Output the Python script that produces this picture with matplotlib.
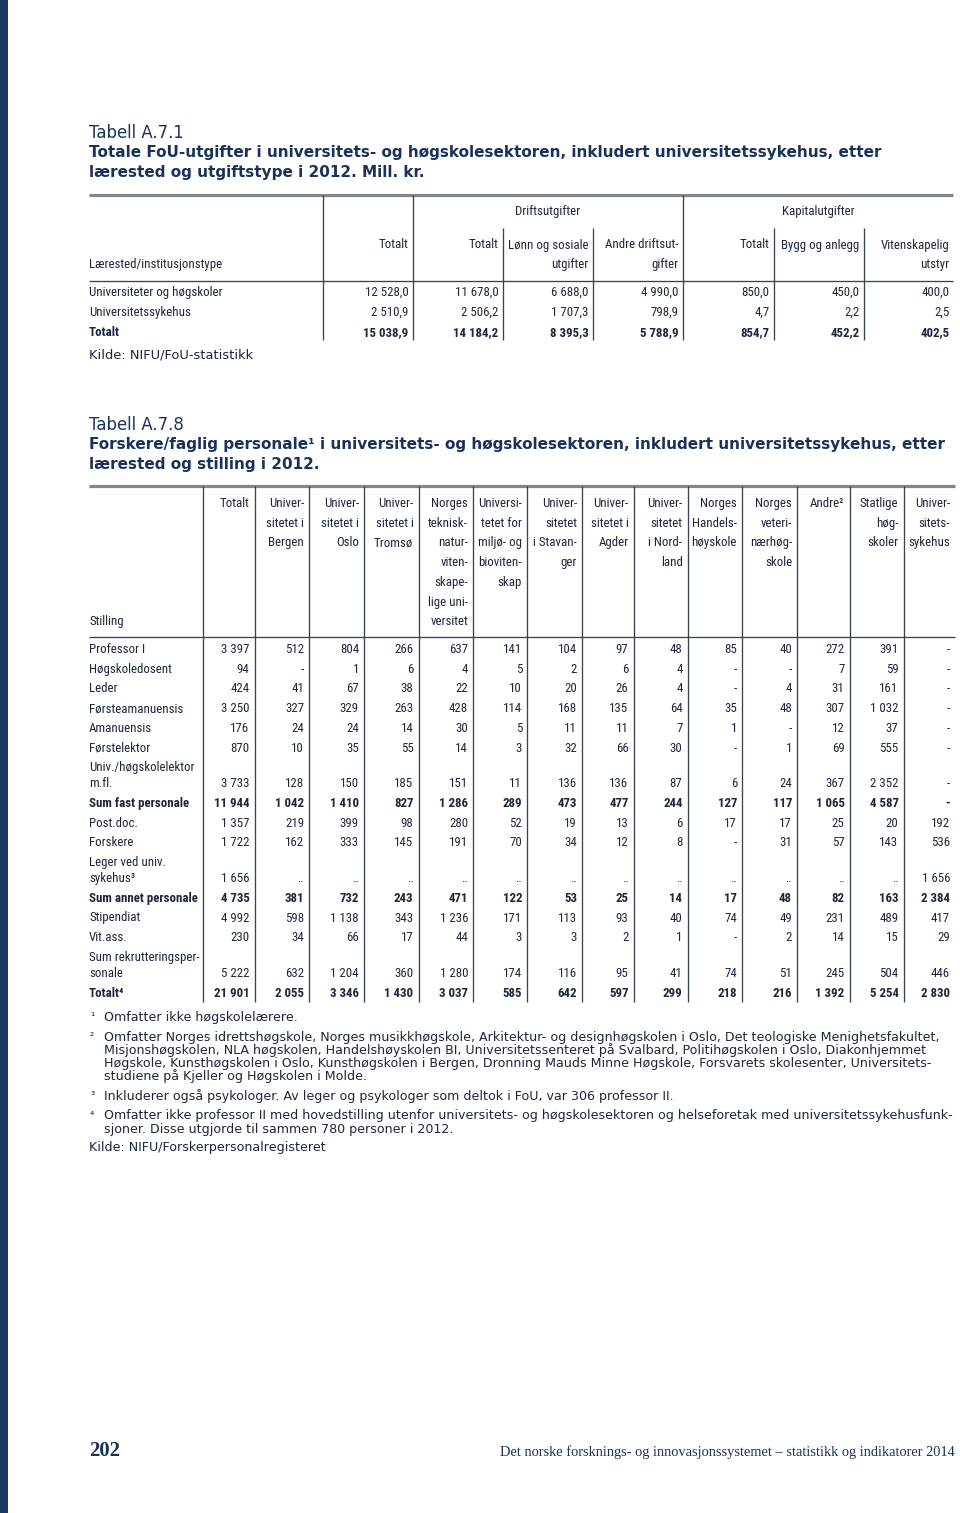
import os
import matplotlib
matplotlib.use("Agg")
import matplotlib.pyplot as plt
from matplotlib import font_manager as fm
from matplotlib.patches import Rectangle

# ---------------- Tabell A.7.1 ----------------
t1_rows = ["Universiteter og høgskoler", "Universitetssykehus", "Totalt"]
t1_cols = [["Totalt"], ["Totalt"], ["Lønn og sosiale", "utgifter"],
           ["Andre driftsut-", "gifter"], ["Totalt"], ["Bygg og anlegg"],
           ["Vitenskapelig", "utstyr"]]
t1_totalt = [12528.0, 2510.9, 15038.9]
t1_drift_totalt = [11678.0, 2506.2, 14184.2]
t1_lonn = [6688.0, 1707.3, 8395.3]
t1_andre_drift = [4990.0, 798.9, 5788.9]
t1_kap_totalt = [850.0, 4.7, 854.7]
t1_bygg = [450.0, 2.2, 452.2]
t1_utstyr = [400.0, 2.5, 402.5]

# ---------------- Tabell A.7.8 ----------------
# 0 -> "-", None -> ".."
t2_cols = [["Totalt"], ["Univer-", "sitetet i", "Bergen"], ["Univer-", "sitetet i", "Oslo"],
           ["Univer-", "sitetet i", "Tromsø"],
           ["Norges", "teknisk-", "natur-", "viten-", "skape-", "lige uni-", "versitet"],
           ["Universi-", "tetet for", "miljø- og", "bioviten-", "skap"],
           ["Univer-", "sitetet", "i Stavan-", "ger"], ["Univer-", "sitetet i", "Agder"],
           ["Univer-", "sitetet", "i Nord-", "land"], ["Norges", "Handels-", "høyskole"],
           ["Norges", "veteri-", "nærhøg-", "skole"], ["Andre²"],
           ["Statlige", "høg-", "skoler"], ["Univer-", "sitets-", "sykehus"]]
t2_rows = ["Professor I", "Høgskoledosent", "Leder", "Førsteamanuensis", "Amanuensis",
           "Førstelektor", "Univ./høgskolelektor\nm.fl.", "Sum fast personale", "Post.doc.",
           "Forskere", "Leger ved univ.\nsykehus³", "Sum annet personale", "Stipendiat",
           "Vit.ass.", "Sum rekrutteringsper-\nsonale", "Totalt⁴"]
t2_values = [
    [3397, 512, 804, 266, 637, 141, 104, 97, 48, 85, 40, 272, 391, 0],
    [94, 0, 1, 6, 4, 5, 2, 6, 4, 0, 0, 7, 59, 0],
    [424, 41, 67, 38, 22, 10, 20, 26, 4, 0, 4, 31, 161, 0],
    [3250, 327, 329, 263, 428, 114, 168, 135, 64, 35, 48, 307, 1032, 0],
    [176, 24, 24, 14, 30, 5, 11, 11, 7, 1, 0, 12, 37, 0],
    [870, 10, 35, 55, 14, 3, 32, 66, 30, 0, 1, 69, 555, 0],
    [3733, 128, 150, 185, 151, 11, 136, 136, 87, 6, 24, 367, 2352, 0],
    [11944, 1042, 1410, 827, 1286, 289, 473, 477, 244, 127, 117, 1065, 4587, 0],
    [1357, 219, 399, 98, 280, 52, 19, 13, 6, 17, 17, 25, 20, 192],
    [1722, 162, 333, 145, 191, 70, 34, 12, 8, 0, 31, 57, 143, 536],
    [1656, None, None, None, None, None, None, None, None, None, None, None, None, 1656],
    [4735, 381, 732, 243, 471, 122, 53, 25, 14, 17, 48, 82, 163, 2384],
    [4992, 598, 1138, 343, 1236, 171, 113, 93, 40, 74, 49, 231, 489, 417],
    [230, 34, 66, 17, 44, 3, 3, 2, 1, 0, 2, 14, 15, 29],
    [5222, 632, 1204, 360, 1280, 174, 116, 95, 41, 74, 51, 245, 504, 446],
    [21901, 2055, 3346, 1430, 3037, 585, 642, 597, 299, 218, 216, 1392, 5254, 2830],
]
t2_bold = [7, 11, 15]

fn2_lines = ["Omfatter Norges idrettshøgskole, Norges musikkhøgskole, Arkitektur- og designhøgskolen i Oslo, Det teologiske Menighetsfakultet,",
             "Misjonshøgskolen, NLA høgskolen, Handelshøyskolen BI, Universitetssenteret på Svalbard, Politihøgskolen i Oslo, Diakonhjemmet",
             "Høgskole, Kunsthøgskolen i Oslo, Kunsthøgskolen i Bergen, Dronning Mauds Minne Høgskole, Forsvarets skolesenter, Universitets-",
             "studiene på Kjeller og Høgskolen i Molde."]
fn4_lines = ["Omfatter ikke professor II med hovedstilling utenfor universitets- og høgskolesektoren og helseforetak med universitetssykehusfunk-",
             "sjoner. Disse utgjorde til sammen 780 personer i 2012."]


def fmt(v, dec=0):
    if v is None:
        return ".."
    if v == 0 and dec == 0:
        return "-"
    s = f"{v:,.{dec}f}".replace(",", " ")
    return s.replace(".", ",")


# condensed font for the table cells, pick whatever is installed
def find_file(names):
    files = {os.path.basename(f.fname).lower(): f.fname for f in fm.fontManager.ttflist}
    for n in names:
        if n.lower() in files:
            return files[n.lower()]
    return None

reg_file = find_file(["NotoSans-ExtraCondensed.ttf", "NotoSans-Condensed.ttf",
                      "RobotoCondensed-Regular.ttf", "LiberationSansNarrow-Regular.ttf",
                      "DejaVuSansCondensed.ttf"])
bold_file = find_file(["NotoSans-ExtraCondensedBold.ttf", "NotoSans-CondensedBold.ttf",
                       "RobotoCondensed-Bold.ttf", "LiberationSansNarrow-Bold.ttf",
                       "DejaVuSansCondensed-Bold.ttf"])

CELL = 9.3

def cell_font(bold=False, size=CELL):
    f = bold_file if bold else reg_file
    if f:
        return fm.FontProperties(fname=f, size=size)
    return fm.FontProperties(family="Liberation Sans", weight="bold" if bold else "normal",
                             size=size * 0.9)

ink = "#1c273b"
navy = "#1a3259"
rule = "#384356"

fig = plt.figure(figsize=(9.6, 15.13), dpi=100)
ax = fig.add_axes([0, 0, 1, 1])
ax.set_xlim(0, 960)
ax.set_ylim(1513, 0)
ax.axis("off")
renderer = fig.canvas.get_renderer()

ax.add_patch(Rectangle((0, 0), 7.5, 1513, color="#183a62", lw=0))


def put(x, y, s, ha="left", fp=None, color=ink, **kw):
    return ax.text(x, y, s, ha=ha, va="center", fontproperties=fp, color=color, **kw)


def fit(t, width):
    w = t.get_window_extent(renderer).width
    t.set_fontsize(t.get_fontsize() * width / w)
    return t.get_fontsize()


def vline(x, y0, y1, lw=0.95, c=rule):
    ax.plot([x, x], [y0, y1], color=c, lw=lw, solid_capstyle="butt")


def hline(y, x0, x1, lw=0.95, c=rule):
    ax.plot([x0, x1], [y, y], color=c, lw=lw, solid_capstyle="butt")


# ---------- title blocks ----------
def title_block(y, label, lines, width_first):
    t = put(89, y, label, fp=fm.FontProperties(family="DejaVu Sans", size=11), color=navy)
    fit(t, 95)
    t1 = put(89, y + 20, lines[0], fp=fm.FontProperties(family="DejaVu Sans", weight="bold", size=10),
             color=navy)
    sz = fit(t1, width_first)
    for i, ln in enumerate(lines[1:], 1):
        put(89, y + 20 * i + 20, ln, color=navy,
            fp=fm.FontProperties(family="DejaVu Sans", weight="bold", size=sz))


title_block(133, "Tabell A.7.1",
            ["Totale FoU-utgifter i universitets- og høgskolesektoren, inkludert universitetssykehus, etter",
             "lærested og utgiftstype i 2012. Mill. kr."], 793)

# ---------- table A.7.1 ----------
t1_lines = [323, 413, 503, 593, 683, 774, 864]
t1_right = 953
hline(195, 89, t1_right, lw=2.3, c="#80858e")
hline(280.5, 89, t1_right)
for i, x in enumerate(t1_lines):
    vline(x, 195 if i in (0, 1, 4) else 228, 340)
put((413 + 683) / 2, 212, "Driftsutgifter", ha="center", fp=cell_font())
put((683 + t1_right) / 2, 212, "Kapitalutgifter", ha="center", fp=cell_font())
put(89, 264.5, "Lærested/institusjonstype", fp=cell_font())
col_edges = t1_lines[1:] + [t1_right + 1]
for c, head in enumerate(t1_cols):
    for k, ln in enumerate(head):
        put(col_edges[c] - 4.5, 245 + 19.5 * k, ln, ha="right", fp=cell_font())
t1_data = [t1_totalt, t1_drift_totalt, t1_lonn, t1_andre_drift, t1_kap_totalt, t1_bygg, t1_utstyr]
for r, name in enumerate(t1_rows):
    y = 292.5 + 19.8 * r
    bold = name == "Totalt"
    put(89, y, name, fp=cell_font(bold))
    for c, col in enumerate(t1_data):
        put(col_edges[c] - 4.5, y, fmt(col[r], 1), ha="right", fp=cell_font(bold))

src = put(89, 355, "Kilde: NIFU/FoU-statistikk", fp=fm.FontProperties(family="DejaVu Sans", size=9))
fit(src, 164)

# ---------- table A.7.8 ----------
title_block(425, "Tabell A.7.8",
            ["Forskere/faglig personale¹ i universitets- og høgskolesektoren, inkludert universitetssykehus, etter",
             "lærested og stilling i 2012."], 860)

t2_lines = [203, 254.5, 309, 364, 418.5, 473, 527, 582, 633.5, 687.5, 742, 797, 849.5, 903.5]
t2_right = 955
hline(486, 89, t2_right, lw=2.3, c="#80858e")
hline(637, 89, t2_right)
for x in t2_lines:
    vline(x, 486, 1002)
edges2 = t2_lines[1:] + [t2_right]
for c, head in enumerate(t2_cols):
    for k, ln in enumerate(head):
        put(edges2[c] - 5, 503.3 + 19.75 * k, ln, ha="right", fp=cell_font())
put(89, 621.7, "Stilling", fp=cell_font())

y = 649.3
for r, name in enumerate(t2_rows):
    parts = name.split("\n")
    if r > 0:
        y += 19.75 if len(parts) == 1 else 35.6
    bold = r in t2_bold
    for k, ln in enumerate(parts):
        put(89, y - 16 * (len(parts) - 1 - k), ln, fp=cell_font(bold))
    for c, v in enumerate(t2_values[r]):
        put(edges2[c] - 5, y, fmt(v), ha="right", fp=cell_font(bold))

# ---------- footnotes ----------
fn_fp = fm.FontProperties(family="DejaVu Sans", size=9)
probe = put(104, 1037, fn2_lines[0], fp=fn_fp)
fsz = fit(probe, 832)
fn_fp = fm.FontProperties(family="DejaVu Sans", size=fsz)
sup_fp = fm.FontProperties(family="DejaVu Sans", size=fsz * 0.85)
put(90, 1017, "¹", fp=sup_fp)
put(104, 1017, "Omfatter ikke høgskolelærere.", fp=fn_fp)
put(90, 1037, "²", fp=sup_fp)
for k, ln in enumerate(fn2_lines[1:], 1):
    put(104, 1037 + 13 * k, ln, fp=fn_fp)
put(90, 1096, "³", fp=sup_fp)
put(104, 1096, "Inkluderer også psykologer. Av leger og psykologer som deltok i FoU, var 306 professor II.", fp=fn_fp)
put(90, 1116, "⁴", fp=sup_fp)
for k, ln in enumerate(fn4_lines):
    put(104, 1116 + 13 * k, ln, fp=fn_fp)
put(89, 1148, "Kilde: NIFU/Forskerpersonalregisteret", fp=fn_fp)

# ---------- page footer ----------
pg = put(89, 1451, "202", fp=fm.FontProperties(family="Liberation Serif", weight="bold", size=15), color=navy)
fit(pg, 31)
ft = put(955, 1452, "Det norske forsknings- og innovasjonssystemet – statistikk og indikatorer 2014",
         ha="right", fp=fm.FontProperties(family="Liberation Serif", size=10), color=navy)
fit(ft, 456)

fig.savefig("out.png", dpi=100)
